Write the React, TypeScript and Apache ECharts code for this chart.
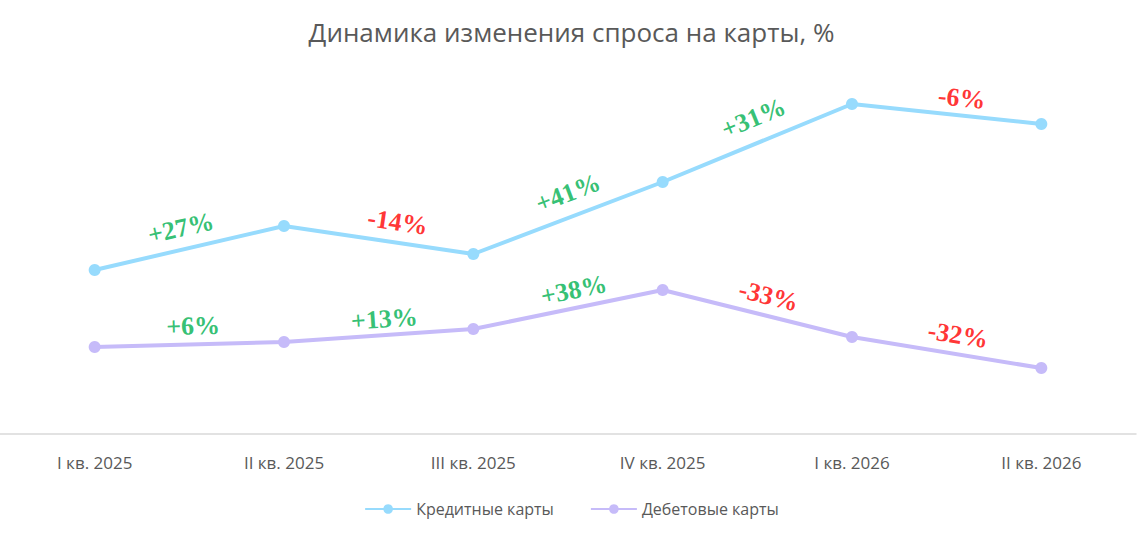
import { useEffect, useRef } from "react";
import * as echarts from "echarts";

const categories = ["I кв. 2025", "II кв. 2025", "III кв. 2025", "IV кв. 2025", "I кв. 2026", "II кв. 2026"];
// values (arbitrary units, axis hidden)
const creditValues = [164, 208, 180, 252, 330, 310];
const debitValues = [87, 92, 105, 144, 97, 66];
const creditChanges = ["+27%", "-14%", "+41%", "+31%", "-6%"];
const debitChanges = ["+6%", "+13%", "+38%", "-33%", "-32%"];
// label centres [x in category units, y in value units]
const creditLabelPos = [[0.455, 206], [1.6, 212], [2.5, 241], [3.48, 316], [4.58, 336]];
const debitLabelPos = [[0.52, 108], [1.53, 115], [2.53, 144], [3.56, 138], [4.56, 99]];

const GREEN = "#00b050";
const RED = "#ff0000";
const CREDIT = "#97dbfd";
const DEBIT = "#c6bbf9";
const PX_PER_CAT = 191;

function labelData(texts: string[], pos: number[][], values: number[]) {
  return texts.map((t, i) => {
    const angle = (Math.atan2(values[i + 1] - values[i], PX_PER_CAT) * 180) / Math.PI;
    return {
      value: pos[i],
      label: {
        show: true,
        position: "inside",
        formatter: t,
        rotate: angle,
        color: t.startsWith("-") ? RED : GREEN,
        fontFamily: "Liberation Serif",
        fontWeight: "bold",
        fontSize: 26
      }
    };
  });
}

export default function App() {
  const ref = useRef<HTMLDivElement>(null);
  useEffect(() => {
    if (!ref.current) return;
    const chart = echarts.init(ref.current, undefined, { renderer: "svg" });
    chart.setOption({
      animation: false,
      textStyle: { fontFamily: "Open Sans" },
      title: {
        text: "Динамика изменения спроса на карты, %",
        left: "center",
        top: 14,
        textStyle: { color: "#595959", fontSize: 26, fontWeight: "normal", fontFamily: "Open Sans" }
      },
      legend: {
        bottom: 16,
        left: "center",
        itemWidth: 46,
        itemHeight: 12,
        itemGap: 36,
        data: ["Кредитные карты", "Дебетовые карты"],
        textStyle: { color: "#595959", fontSize: 16 }
      },
      grid: { left: -10, right: 7, top: 84, bottom: 104 },
      xAxis: [
        {
          type: "category",
          data: categories,
          axisLine: { lineStyle: { color: "#d9d9d9", width: 1.5 } },
          axisTick: { show: false },
          axisLabel: { color: "#595959", fontSize: 17, margin: 20 }
        },
        { type: "value", min: -0.5, max: 5.5, show: false }
      ],
      yAxis: { type: "value", min: 0, max: 350, show: false },
      series: [
        {
          name: "Кредитные карты",
          type: "line",
          data: creditValues,
          symbol: "circle",
          symbolSize: 12,
          lineStyle: { color: CREDIT, width: 4 },
          itemStyle: { color: CREDIT }
        },
        {
          name: "Дебетовые карты",
          type: "line",
          data: debitValues,
          symbol: "circle",
          symbolSize: 12,
          lineStyle: { color: DEBIT, width: 4 },
          itemStyle: { color: DEBIT }
        },
        {
          type: "scatter",
          xAxisIndex: 1,
          symbolSize: 0,
          silent: true,
          data: [
            ...labelData(creditChanges, creditLabelPos, creditValues),
            ...labelData(debitChanges, debitLabelPos, debitValues)
          ]
        }
      ]
    });
    return () => chart.dispose();
  }, []);
  return <div ref={ref} style={{ position: "fixed", left: 0, top: 0, width: 1143, height: 538, background: "#fff" }} />;
}
